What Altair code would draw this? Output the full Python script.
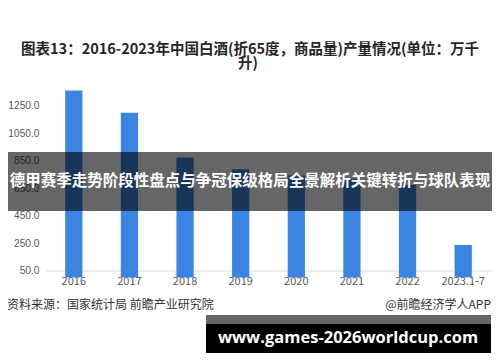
import altair as alt
import pandas as pd

categories = ["2016", "2017", "2018", "2019", "2020", "2021", "2022", "2023.1-7"]
values = [1358.4, 1198.1, 871.2, 785.9, 740.7, 715.6, 671.2, 236.0]
y_ticks = [50, 250, 450, 650, 850, 1050, 1250]

title_line1 = "图表13：2016-2023年中国白酒(折65度，商品量)产量情况(单位：万千"
title_line2 = "升)"
source_text = "资料来源：国家统计局 前瞻产业研究院"
credit_text = "@前瞻经济学人APP"
banner_text = "德甲赛季走势阶段性盘点与争冠保级格局全景解析关键转折与球队表现"
url_text = "www.games-2026worldcup.com"

CJK = "Noto Sans CJK SC"

df = pd.DataFrame({"year": categories, "value": values})

bars = alt.Chart(df).mark_bar(color="#3c84e1").encode(
    x=alt.X("year:N", sort=categories, title=None,
            scale=alt.Scale(paddingInner=0.69, paddingOuter=0.345),
            axis=alt.Axis(labelAngle=0, ticks=False, domainColor="#d9d9d9",
                          labelColor="#595959", labelFontSize=11, labelFont=CJK,
                          labelPadding=5)),
    y=alt.Y("value:Q", title=None,
            scale=alt.Scale(domain=[50, 1450], nice=False, zero=False),
            axis=alt.Axis(values=y_ticks, format=".1f", grid=False, domain=False,
                          ticks=False, labelColor="#595959", labelFontSize=10.2,
                          labelFont="Liberation Sans", labelPadding=7)),
)

# plot origin is at page (46, 78)
def txt(text, x, y, size, color, weight="normal", align="center", font=CJK):
    d = pd.DataFrame({"t": [text]})
    return alt.Chart(d).mark_text(
        fontSize=size, color=color, fontWeight=weight, align=align,
        baseline="middle", font=font
    ).encode(x=alt.value(x), y=alt.value(y), text=alt.Text("t:N"))

def rect(x1, x2, y1, y2, color, opacity=1.0):
    d = pd.DataFrame({"k": [0]})
    return alt.Chart(d).mark_rect(color=color, opacity=opacity).encode(
        x=alt.value(x1), x2=alt.value(x2), y=alt.value(y1), y2=alt.value(y2))

t1 = txt(title_line1, 204, -28, 14.5, "#262626", "bold")
t2 = txt(title_line2, 202, -14, 14.5, "#262626", "bold")
src = txt(source_text, 7 - 46, 305 - 78, 12, "#333333", align="left")
cred = txt(credit_text, 491 - 46, 305 - 78, 12, "#333333", align="right")

band = rect(-46, 460, 152 - 78, 211 - 78, "black", 0.6)
band_t = txt(banner_text, 250 - 46, 181 - 78, 15.5, "white", "bold")

b2a = rect(206 - 46, 491 - 46, 315 - 78, 324 - 78, "#666666")
b2b = rect(206 - 46, 491 - 46, 324 - 78, 353 - 78, "black")
b2t = txt(url_text, 348 - 46, 338 - 78, 16.5, "white", "bold", font="Open Sans")

chart = alt.layer(bars, t1, t2, src, cred, band, band_t, b2a, b2b, b2t).properties(
    width=445, height=192.5,
    autosize=alt.AutoSizeParams(type="none"),
    padding={"left": 38, "top": 70, "right": 1, "bottom": 84},
    background="white",
).configure_view(stroke=None)

chart.save("out.html", embed_options={"renderer": "svg", "actions": False})
